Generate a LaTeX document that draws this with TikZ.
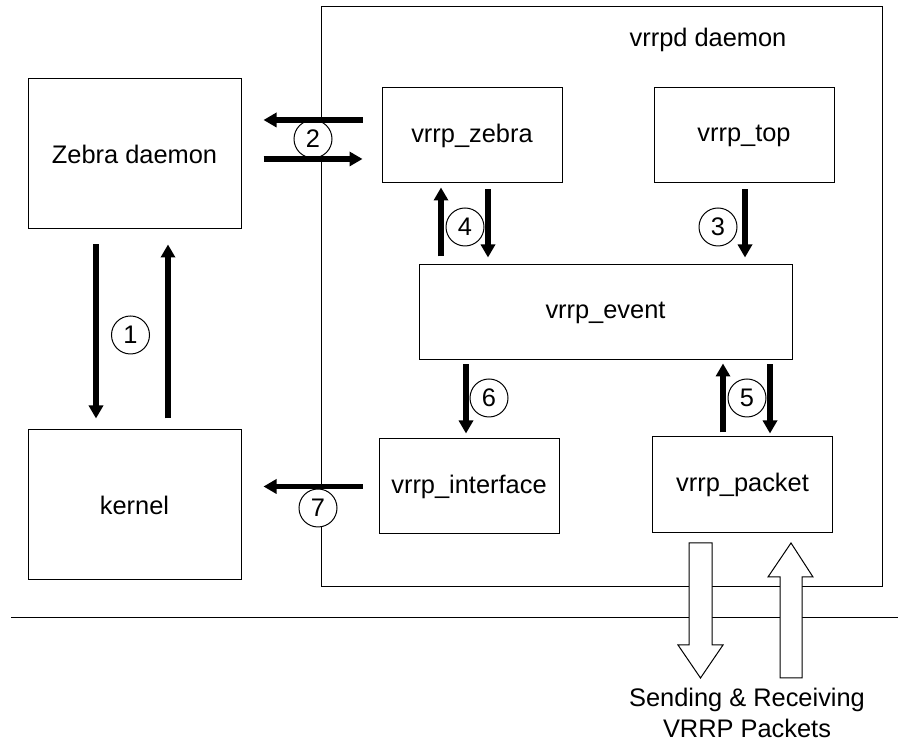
\documentclass[tikz,border=0pt]{standalone}
\usepackage{fontspec}
\setmainfont{Liberation Sans}
\usetikzlibrary{arrows.meta}

\begin{document}
\begin{tikzpicture}[
    x=1pt, y=1pt,
    module/.style={rectangle, draw=black, line width=1pt, fill=white, minimum width=180pt, minimum height=95pt, inner sep=0pt, font=\fontsize{25.4}{31}\selectfont},
    outerbox/.style={rectangle, draw=black, line width=1pt, inner sep=0pt},
    txt/.style={inner sep=0pt, align=center, font=\fontsize{25.4}{31}\selectfont},
    tag/.style={circle, draw=black, line width=1pt, fill=white, minimum size=38pt, inner sep=0pt, font=\fontsize{25.4}{30}\selectfont},
    flow/.style={-{Triangle[length=13pt, width=14pt]}, line width=5.5pt},
    hollow/.style={draw=black, line width=1pt, fill=white, line join=miter}
]
\useasboundingbox (0,0) rectangle (898,743);

% Daemon frame
\node[outerbox, minimum width=561pt, minimum height=580pt] (vrrpd) at (601.5, 446) {};
\node[txt] (vrrpdlbl) at (708, 703) {vrrpd daemon};

% Modules
\node[module, minimum width=213pt, minimum height=150pt] (zebra) at (134.5, 589) {Zebra daemon};
\node[module, minimum width=213pt, minimum height=150pt] (kernel) at (134.5, 238) {kernel};
\node[module] (vzebra) at (472, 607.5) {vrrp\_zebra};
\node[module] (vtop) at (744, 607.5) {vrrp\_top};
\node[module, minimum width=373pt] (vevent) at (605.5, 430.5) {vrrp\_event};
\node[module] (vinterface) at (469, 256.5) {vrrp\_interface};
\node[module, minimum height=96pt] (vpacket) at (742.5, 258) {vrrp\_packet};

% Network line
\coordinate (netL) at (11, 125);
\coordinate (netR) at (898, 125);
\draw[line width=1pt] (netL) -- (netR);

% Number tags
\node[tag] (n1) at (130.5, 408) {1};
\node[tag] (n2) at (313, 604) {2};
\node[tag] (n3) at (718, 516) {3};
\node[tag] (n4) at (465, 516) {4};
\node[tag] (n5) at (747, 345) {5};
\node[tag] (n6) at (489, 345) {6};
\node[tag] (n7) at (318, 235) {7};

% Flows
\draw[flow, shorten <=15pt, shorten >=11pt] ([xshift=-38.5pt]zebra.south) -- ([xshift=-38.5pt]kernel.north);
\draw[flow, shorten <=11pt, shorten >=15pt] ([xshift=33.5pt]kernel.north) -- ([xshift=33.5pt]zebra.south);

\coordinate (z2a) at ([yshift=15.5pt]vzebra.west);
\coordinate (z2b) at ([yshift=-23.5pt]vzebra.west);
\draw[flow, shorten <=19pt, shorten >=22pt] (z2a) -- (z2a -| zebra.east);
\draw[flow, shorten <=22pt, shorten >=19pt] (z2b -| zebra.east) -- (z2b);

\draw[flow, shorten <=6pt, shorten >=7pt] ([xshift=1pt]vtop.south) -- ([xshift=1pt]vtop.south |- vevent.north);

\draw[flow, shorten <=8pt, shorten >=4pt] ([xshift=-31pt]vzebra.south |- vevent.north) -- ([xshift=-31pt]vzebra.south);
\draw[flow, shorten <=6pt, shorten >=7pt] ([xshift=16pt]vzebra.south) -- ([xshift=16pt]vzebra.south |- vevent.north);

\draw[flow, shorten <=4pt, shorten >=5pt] ([xshift=-3pt]vinterface.north |- vevent.south) -- ([xshift=-3pt]vinterface.north);

\draw[flow, shorten <=4pt, shorten >=3pt] ([xshift=-19.5pt]vpacket.north) -- ([xshift=-19.5pt]vpacket.north |- vevent.south);
\draw[flow, shorten <=4pt, shorten >=3pt] ([xshift=27.5pt]vpacket.north |- vevent.south) -- ([xshift=27.5pt]vpacket.north);

\draw[flow, shorten <=16pt, shorten >=22pt] (vinterface.west) -- (vinterface.west -| kernel.east);

% Packets in and out
\draw[hollow] (689,200) -- (712,200) -- (712,98) -- (723,98) -- (700.5,65) -- (678,98) -- (689,98) -- cycle;
\draw[hollow] (780,65) -- (802,65) -- (802,166) -- (813,166) -- (791,200) -- (768,166) -- (780,166) -- cycle;
\node[txt] (pktlbl) at (747, 30) {Sending \& Receiving\\VRRP Packets};

\end{tikzpicture}
\end{document}
